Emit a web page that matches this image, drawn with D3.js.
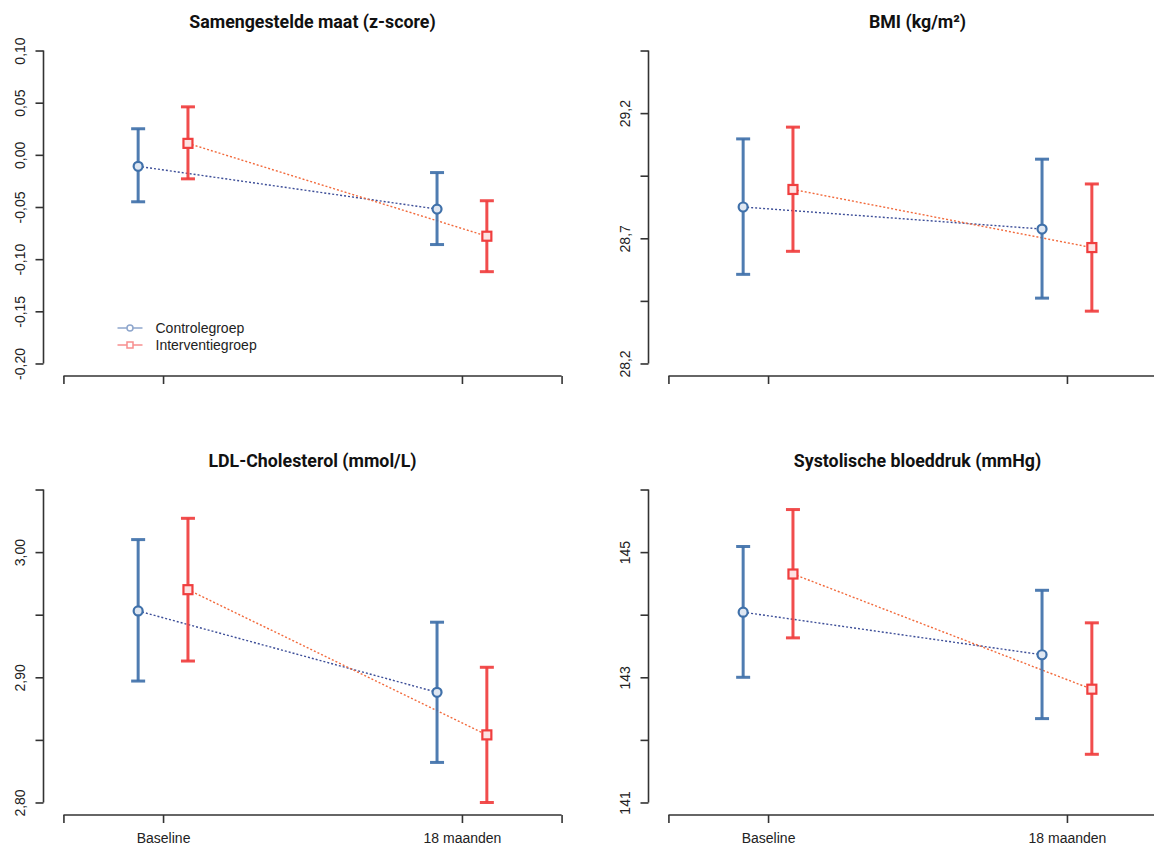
<!DOCTYPE html>
<html>
<head>
<meta charset="utf-8">
<script src="https://cdn.jsdelivr.net/npm/d3@7"></script>
<style>
    body { margin: 0; background: #fff; }
    svg { display: block; }
</style>
</head>
<body>
<div id="chart"></div>
<script>
// --- data ---
const timepoints = ["Baseline", "18 maanden"];
const groups = ["Controlegroep", "Interventiegroep"];
const titles = ["Samengestelde maat (z-score)", "BMI (kg/m²)", "LDL-Cholesterol (mmol/L)", "Systolische bloeddruk (mmHg)"];

// [mean, lower, upper] per timepoint
const zControl = [[-0.011, -0.045, 0.025], [-0.052, -0.086, -0.017]];
const zIntervention = [[0.011, -0.023, 0.046], [-0.078, -0.112, -0.044]];
const bmiControl = [[28.825, 28.556, 29.097], [28.737, 28.461, 29.016]];
const bmiIntervention = [[28.895, 28.648, 29.144], [28.663, 28.409, 28.917]];
const ldlControl = [[2.953, 2.897, 3.010], [2.888, 2.832, 2.944]];
const ldlIntervention = [[2.970, 2.913, 3.027], [2.854, 2.800, 2.908]];
const sbpControl = [[144.04, 143.00, 145.09], [143.36, 142.34, 144.39]];
const sbpIntervention = [[144.65, 143.63, 145.68], [142.81, 141.77, 143.87]];

// y limits, ticks and the ticks that get a label
const zTicks = [-0.20, -0.15, -0.10, -0.05, 0.00, 0.05, 0.10];
const zLabels = ["-0,20", "-0,15", "-0,10", "-0,05", "0,00", "0,05", "0,10"];
const bmiTicks = [28.2, 28.45, 28.7, 28.95, 29.2, 29.45];
const bmiLabels = ["28,2", "", "28,7", "", "29,2", ""];
const ldlTicks = [2.80, 2.85, 2.90, 2.95, 3.00, 3.05];
const ldlLabels = ["2,80", "", "2,90", "", "3,00", ""];
const sbpTicks = [141, 142, 143, 144, 145, 146];
const sbpLabels = ["141", "", "143", "", "145", ""];

const colors = {
    control: "#4071aa",
    intervention: "#f03e3e",
    controlLine: "#3d4e98",
    interventionLine: "#f26a3c"
};

class ErrorPanel {
    constructor(svg, opts) {
        this.svg = svg;
        this.opts = opts;
        this.initVis();
    }

    initVis() {
        let vis = this;
        vis.width = 538;
        vis.height = 338;

        vis.g = vis.svg.append("g")
            .attr("transform", `translate(${vis.opts.left},${vis.opts.top})`);

        // R style: limits padded by 4%
        let xlim = [2 / 3, 7 / 3];
        let xpad = (xlim[1] - xlim[0]) * 0.04;
        vis.x = d3.scaleLinear()
            .domain([xlim[0] - xpad, xlim[1] + xpad])
            .range([0, vis.width]);

        let ticks = vis.opts.ticks;
        let ylim = [ticks[0], ticks[ticks.length - 1]];
        let ypad = (ylim[1] - ylim[0]) * 0.04;
        vis.y = d3.scaleLinear()
            .domain([ylim[0] - ypad, ylim[1] + ypad])
            .range([vis.height, 0]);

        vis.offset = 1 / 12;
        vis.updateVis();
    }

    updateVis() {
        let vis = this;
        let ticks = vis.opts.ticks;
        let labels = vis.opts.labels;

        // y axis, line only from first to last tick
        let yAxis = vis.g.append("g")
            .attr("class", "y-axis")
            .call(d3.axisLeft(vis.y).tickValues(ticks).tickSize(8).tickFormat((d, i) => labels[i]));
        yAxis.select(".domain").remove();
        yAxis.append("line")
            .attr("y1", vis.y(ticks[0]))
            .attr("y2", vis.y(ticks[ticks.length - 1]));
        yAxis.selectAll("line").attr("stroke", "#333").attr("stroke-width", 1.6);
        yAxis.selectAll("text")
            .attr("x", 0)
            .attr("y", -24)
            .attr("dy", "0.36em")
            .attr("transform", "rotate(-90)")
            .style("text-anchor", "middle")
            .style("font-family", "'Liberation Sans', Arial, sans-serif")
            .style("font-size", "14px")
            .attr("fill", "#222");

        // x axis: end ticks plus the two time points
        let xTicks = [2 / 3, 1, 2, 7 / 3];
        let xAxis = vis.g.append("g")
            .attr("class", "x-axis")
            .attr("transform", `translate(0,${vis.height})`)
            .call(d3.axisBottom(vis.x).tickValues(xTicks).tickSize(8)
                .tickFormat(d => vis.opts.showX ? (d === 1 ? timepoints[0] : d === 2 ? timepoints[1] : "") : ""));
        xAxis.select(".domain").remove();
        xAxis.append("line")
            .attr("x1", vis.x(xTicks[0]))
            .attr("x2", vis.x(xTicks[3]));
        xAxis.selectAll("line").attr("stroke", "#333").attr("stroke-width", 1.6);
        xAxis.selectAll("text")
            .attr("y", 18)
            .attr("dy", "0.71em")
            .style("font-family", "'Liberation Sans', Arial, sans-serif")
            .style("font-size", "14px")
            .attr("fill", "#222");

        // title
        vis.g.append("text")
            .attr("class", "title")
            .attr("x", vis.width / 2)
            .attr("y", -10)
            .attr("text-anchor", "middle")
            .style("font-family", "Roboto, 'Liberation Sans', sans-serif")
            .style("font-weight", "700")
            .style("font-size", "17.8px")
            .attr("fill", "#111")
            .text(vis.opts.title);

        let series = [
            { key: "control", data: vis.opts.control, shift: -vis.offset },
            { key: "intervention", data: vis.opts.intervention, shift: vis.offset }
        ];

        // dotted connecting lines
        series.forEach(s => {
            let line = d3.line()
                .x((d, i) => vis.x(i + 1 + s.shift))
                .y(d => vis.y(d[0]));
            vis.g.append("path")
                .datum(s.data)
                .attr("d", line)
                .attr("fill", "none")
                .attr("stroke", colors[s.key + "Line"])
                .attr("stroke-width", 1.4)
                .attr("stroke-dasharray", "2,2");
        });

        // error bars
        series.forEach(s => {
            let bars = vis.g.selectAll(".bar-" + s.key)
                .data(s.data)
                .enter()
                .append("g")
                .attr("class", "bar-" + s.key)
                .attr("stroke", colors[s.key])
                .attr("stroke-width", 3)
                .attr("stroke-opacity", 0.92);
            bars.append("line")
                .attr("x1", (d, i) => vis.x(i + 1 + s.shift))
                .attr("x2", (d, i) => vis.x(i + 1 + s.shift))
                .attr("y1", d => vis.y(d[1]))
                .attr("y2", d => vis.y(d[2]));
            [1, 2].forEach(k => {
                bars.append("line")
                    .attr("x1", (d, i) => vis.x(i + 1 + s.shift) - 7)
                    .attr("x2", (d, i) => vis.x(i + 1 + s.shift) + 7)
                    .attr("y1", d => vis.y(d[k]))
                    .attr("y2", d => vis.y(d[k]));
            });
        });

        // points
        vis.g.selectAll(".pt-control")
            .data(vis.opts.control)
            .enter()
            .append("circle")
            .attr("class", "pt-control")
            .attr("cx", (d, i) => vis.x(i + 1 - vis.offset))
            .attr("cy", d => vis.y(d[0]))
            .attr("r", 4.5)
            .attr("fill", "#dfe7f2")
            .attr("stroke", colors.control)
            .attr("stroke-width", 2.2);

        vis.g.selectAll(".pt-intervention")
            .data(vis.opts.intervention)
            .enter()
            .append("rect")
            .attr("class", "pt-intervention")
            .attr("x", (d, i) => vis.x(i + 1 + vis.offset) - 4.5)
            .attr("y", d => vis.y(d[0]) - 4.5)
            .attr("width", 9)
            .attr("height", 9)
            .attr("fill", "#fde3e3")
            .attr("stroke", colors.intervention)
            .attr("stroke-width", 2.2);

        if (vis.opts.legend) vis.drawLegend();
    }

    drawLegend() {
        let vis = this;
        let legend = vis.g.append("g")
            .attr("class", "legend")
            .attr("transform", `translate(74,290)`);
        let faded = ["#8ea6cc", "#f78e8e"];
        groups.forEach((name, i) => {
            let row = legend.append("g").attr("transform", `translate(0,${i * 17})`);
            row.append("line")
                .attr("x1", 0).attr("x2", 25)
                .attr("stroke", faded[i])
                .attr("stroke-width", 1.5);
            if (i === 0) {
                row.append("circle").attr("cx", 12.5).attr("r", 3)
                    .attr("fill", "#fff").attr("stroke", faded[i]).attr("stroke-width", 1.5);
            } else {
                row.append("rect").attr("x", 9.5).attr("y", -3).attr("width", 6).attr("height", 6)
                    .attr("fill", "#fff").attr("stroke", faded[i]).attr("stroke-width", 1.5);
            }
            row.append("text")
                .attr("x", 38)
                .attr("dy", "0.35em")
                .style("font-family", "'Liberation Sans', Arial, sans-serif")
                .style("font-size", "14px")
                .attr("fill", "#222")
                .text(name);
        });
    }
}

const svg = d3.select("#chart")
    .append("svg")
    .attr("width", 1154)
    .attr("height", 846);

new ErrorPanel(svg, { left: 43.5, top: 38, title: titles[0], ticks: zTicks, labels: zLabels,
    control: zControl, intervention: zIntervention, showX: false, legend: true });
new ErrorPanel(svg, { left: 648.5, top: 38, title: titles[1], ticks: bmiTicks, labels: bmiLabels,
    control: bmiControl, intervention: bmiIntervention, showX: false, legend: false });
new ErrorPanel(svg, { left: 43.5, top: 477, title: titles[2], ticks: ldlTicks, labels: ldlLabels,
    control: ldlControl, intervention: ldlIntervention, showX: true, legend: false });
new ErrorPanel(svg, { left: 648.5, top: 477, title: titles[3], ticks: sbpTicks, labels: sbpLabels,
    control: sbpControl, intervention: sbpIntervention, showX: true, legend: false });
</script>
</body>
</html>
